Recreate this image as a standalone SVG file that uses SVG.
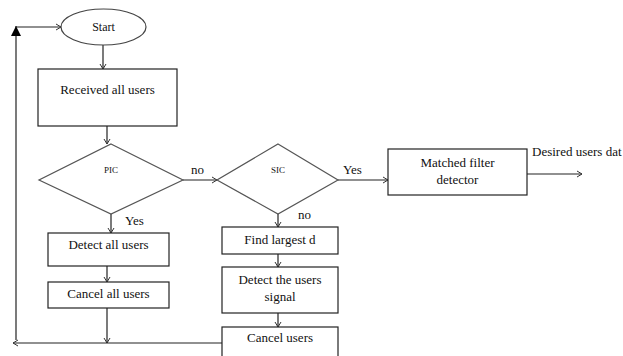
<svg xmlns="http://www.w3.org/2000/svg" width="623" height="356" viewBox="0 0 623 356">
<defs>
<marker id="open" markerWidth="8" markerHeight="8" refX="6" refY="4" orient="auto" markerUnits="userSpaceOnUse">
<path d="M1,1 L6,4 L1,7" fill="none" stroke="#333" stroke-width="1"/>
</marker>
<marker id="solid" markerWidth="12" markerHeight="12" refX="10" refY="5" orient="auto" markerUnits="userSpaceOnUse">
<path d="M0,0 L10,5 L0,10 Z" fill="#000"/>
</marker>
<style>
.box{fill:#fff;stroke:#222;stroke-width:1.2}
.dia{fill:#fff;stroke:#555;stroke-width:1.2}
.t{font-family:"Liberation Serif","Times New Roman",serif;font-size:13px;fill:#111;text-anchor:middle}
.s{font-family:"Liberation Serif","Times New Roman",serif;font-size:9px;fill:#111;text-anchor:middle}
.l{font-family:"Liberation Serif","Times New Roman",serif;font-size:13px;fill:#111}
.c{fill:none;stroke:#222;stroke-width:1.2}
</style>
</defs>
<g id="connectors">
<line class="c" x1="103" y1="45" x2="103" y2="69" marker-end="url(#open)"/>
<line class="c" x1="107" y1="126" x2="107" y2="144" marker-end="url(#open)"/>
<line class="c" x1="183" y1="180" x2="217" y2="180" marker-end="url(#open)"/>
<line class="c" x1="338" y1="180" x2="388" y2="180" marker-end="url(#open)"/>
<line class="c" x1="527" y1="174" x2="582" y2="174" marker-end="url(#open)"/>
<line class="c" x1="111" y1="214" x2="111" y2="233" marker-end="url(#open)"/>
<line class="c" x1="107" y1="266" x2="107" y2="282" marker-end="url(#open)"/>
<line class="c" x1="107" y1="308" x2="107" y2="343" marker-end="url(#open)"/>
<line class="c" x1="278" y1="214" x2="278" y2="227" marker-end="url(#open)"/>
<line class="c" x1="278" y1="254" x2="278" y2="267" marker-end="url(#open)"/>
<line class="c" x1="278" y1="313" x2="278" y2="327" marker-end="url(#open)"/>
<line class="c" x1="222" y1="343" x2="13" y2="343" marker-end="url(#open)"/>
<line class="c" x1="16" y1="340" x2="16" y2="26" marker-end="url(#solid)"/>
<line class="c" x1="16" y1="27" x2="61" y2="27" marker-end="url(#open)"/>
<text class="l" x="191" y="174">no</text>
<text class="l" x="343" y="174">Yes</text>
<text class="l" x="125" y="225">Yes</text>
<text class="l" x="298" y="219">no</text>
<text class="l" x="532" y="156">Desired users dat</text>
</g>
<g id="start">
<ellipse cx="103.5" cy="27" rx="42.5" ry="18" fill="#fff" stroke="#444" stroke-width="1.2"/>
<text class="t" x="103.5" y="31" style="font-size:12px">Start</text>
</g>
<g id="received">
<rect class="box" x="38" y="69" width="139" height="57"/>
<text class="t" x="107.5" y="94">Received all users</text>
</g>
<g id="pic">
<polygon class="dia" points="111,144 183,180 111,214 39,180"/>
<text class="s" x="111" y="173">PIC</text>
</g>
<g id="sic">
<polygon class="dia" points="278,144 338,180 278,214 217,180"/>
<text class="s" x="278" y="173">SIC</text>
</g>
<g id="matched">
<rect class="box" x="388" y="149" width="139" height="46"/>
<text class="t" x="457.5" y="167">Matched filter</text>
<text class="t" x="457.5" y="184">detector</text>
</g>
<g id="detect-all">
<rect class="box" x="48" y="233" width="121" height="33"/>
<text class="t" x="108.5" y="249">Detect all users</text>
</g>
<g id="cancel-all">
<rect class="box" x="48" y="282" width="121" height="26"/>
<text class="t" x="108.5" y="298">Cancel all users</text>
</g>
<g id="find-largest">
<rect class="box" x="222" y="227" width="116" height="27"/>
<text class="t" x="280" y="244">Find largest d</text>
</g>
<g id="detect-signal">
<rect class="box" x="222" y="267" width="116" height="46"/>
<text class="t" x="280" y="284">Detect the users</text>
<text class="t" x="280" y="301">signal</text>
</g>
<g id="cancel-users">
<rect class="box" x="222" y="327" width="116" height="40"/>
<text class="t" x="280" y="342">Cancel users</text>
</g>
</svg>
